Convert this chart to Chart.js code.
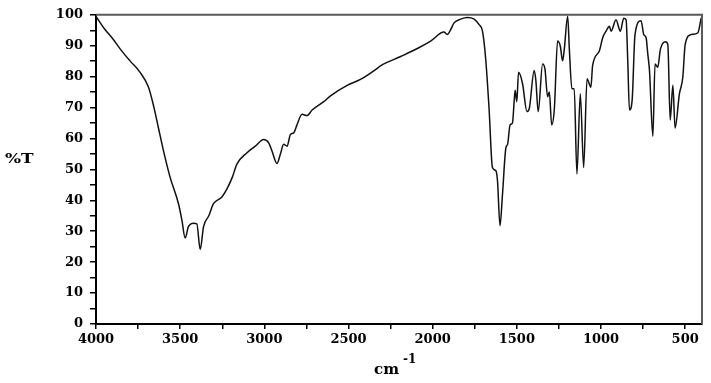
<!DOCTYPE html>
<html>
<head>
<meta charset="utf-8">
<script src="https://cdn.jsdelivr.net/npm/chart.js@4"></script>
<style>
html,body{margin:0;padding:0;background:#fff;}
#c{display:block;}
</style>
</head>
<body>
<canvas id="c" width="711" height="383"></canvas>
<script>
const wavenumbers = [4000, 3950, 3897, 3850, 3798, 3738, 3689, 3659, 3629, 3599, 3560, 3510, 3490, 3470, 3451, 3420, 3401, 3381, 3361, 3330, 3302, 3252, 3222, 3190, 3163, 3103, 3054, 3004, 2974, 2954, 2925, 2905, 2885, 2865, 2845, 2826, 2806, 2776, 2746, 2716, 2647, 2607, 2508, 2429, 2329, 2310, 2190, 2091, 2012, 1933, 1913, 1893, 1873, 1833, 1794, 1754, 1724, 1704, 1685, 1665, 1645, 1625, 1615, 1600, 1585, 1565, 1555, 1540, 1526, 1516, 1510, 1500, 1490, 1466, 1440, 1426, 1397, 1387, 1373, 1347, 1333, 1317, 1307, 1293, 1277, 1258, 1242, 1228, 1218, 1198, 1188, 1173, 1159, 1143, 1123, 1103, 1083, 1060, 1050, 1010, 990, 970, 950, 940, 911, 885, 865, 851, 841, 831, 815, 798, 762, 746, 732, 722, 712, 692, 679, 663, 647, 617, 603, 589, 573, 560, 534, 514, 500, 464, 424, 405];
const transmittance = [99.5, 95.5, 92.0, 88.5, 85.1, 81.4, 76.7, 70.8, 63.4, 56.0, 47.5, 38.9, 33.7, 27.8, 31.5, 32.6, 32.4, 24.1, 31.5, 35.0, 38.9, 41.1, 43.7, 47.5, 51.7, 55.4, 57.5, 59.7, 58.6, 55.9, 51.9, 54.9, 58.1, 57.5, 61.3, 61.8, 64.4, 67.8, 67.4, 69.2, 71.9, 73.8, 77.2, 79.1, 82.7, 83.5, 86.5, 89.1, 91.5, 94.4, 93.6, 95.2, 97.4, 98.6, 99.1, 98.6, 96.8, 94.7, 85.7, 69.7, 50.6, 49.6, 46.4, 31.8, 42.1, 57.0, 58.1, 64.4, 65.0, 71.9, 75.6, 71.9, 81.4, 77.7, 68.7, 69.7, 82.0, 78.8, 68.7, 84.1, 82.5, 73.5, 75.0, 64.4, 69.7, 91.5, 89.9, 85.1, 88.9, 99.5, 88.9, 76.1, 76.1, 48.5, 74.5, 50.6, 79.3, 76.6, 83.5, 88.3, 92.6, 94.7, 96.3, 94.7, 98.4, 94.7, 98.9, 98.4, 85.1, 69.2, 72.4, 93.6, 98.1, 93.6, 92.6, 87.3, 82.0, 60.7, 84.1, 83.0, 88.9, 91.3, 90.4, 66.0, 77.2, 63.4, 74.5, 79.8, 90.4, 93.6, 94.2, 99.0];
const xTickLabels = [4000, 3500, 3000, 2500, 2000, 1500, 1000, 500];
const yTickLabels = [0, 10, 20, 30, 40, 50, 60, 70, 80, 90, 100];

const FONT = 'DejaVu Serif';
const points = wavenumbers.map((w, i) => ({x: w, y: transmittance[i]}));

const xTicks = [];
for (let v = 4000; v >= 500; v -= 250) xTicks.push({value: v});
const yTicks = [];
for (let v = 0; v <= 100; v += 5) yTicks.push({value: v});

const framePlugin = {
  id: 'frame',
  afterDraw(chart) {
    const {ctx, chartArea: a} = chart;
    ctx.save();
    ctx.strokeStyle = '#5a5a5a';
    ctx.lineWidth = 2;
    ctx.beginPath();
    ctx.moveTo(a.left, a.top);
    ctx.lineTo(a.right, a.top);
    ctx.lineTo(a.right, a.bottom);
    ctx.stroke();
    ctx.fillStyle = '#000';
    ctx.textBaseline = 'alphabetic';
    ctx.textAlign = 'left';
    ctx.save();
    ctx.translate(5, 163);
    ctx.scale(1.3, 1);
    ctx.font = 'bold 13px "' + FONT + '"';
    ctx.fillText('%T', 0, 0);
    ctx.restore();
    ctx.font = 'bold 15px "' + FONT + '"';
    ctx.fillText('cm', 374, 374);
    ctx.font = 'bold 12px "' + FONT + '"';
    ctx.fillText('-1', 403, 363);
    ctx.restore();
  }
};

new Chart(document.getElementById('c'), {
  type: 'line',
  data: {
    datasets: [{
      data: points,
      borderColor: '#111',
      borderWidth: 1.5,
      pointRadius: 0,
      fill: false,
      cubicInterpolationMode: 'monotone'
    }]
  },
  options: {
    responsive: false,
    animation: false,
    events: [],
    layout: {padding: {left: 0, right: 9, top: 10, bottom: 0}},
    plugins: {legend: {display: false}, tooltip: {enabled: false}},
    scales: {
      x: {
        type: 'linear',
        reverse: true,
        min: 400,
        max: 4000,
        afterBuildTicks(s) { s.ticks = xTicks.map(t => ({value: t.value})); },
        afterFit(s) { s.height = 59; },
        ticks: {
          autoSkip: false,
          maxRotation: 0,
          padding: 3,
          color: '#000',
          font: {family: FONT, size: 13, weight: 'bold'},
          callback: v => xTickLabels.includes(v) ? String(v) : ''
        },
        grid: {drawOnChartArea: false, drawTicks: true, tickLength: 5, color: '#000', lineWidth: 1.5},
        border: {display: true, color: '#000', width: 2}
      },
      y: {
        min: 0,
        max: 100,
        afterBuildTicks(s) { s.ticks = yTicks.map(t => ({value: t.value})); },
        afterFit(s) { s.width = 96; },
        ticks: {
          autoSkip: false,
          padding: 7,
          color: '#000',
          font: {family: FONT, size: 13, weight: 'bold'},
          callback: v => yTickLabels.includes(v) ? String(v) : ''
        },
        grid: {drawOnChartArea: false, drawTicks: true, tickLength: 6, color: '#000', lineWidth: 1.5},
        border: {display: true, color: '#000', width: 2}
      }
    }
  },
  plugins: [framePlugin]
});
</script>
</body>
</html>
